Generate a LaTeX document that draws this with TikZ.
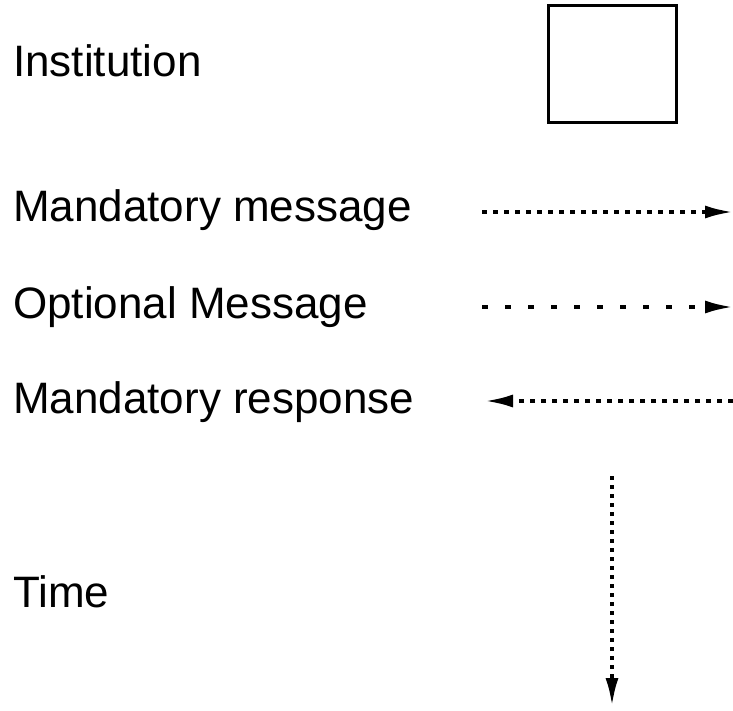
\documentclass[tikz,border=0pt]{standalone}
\usepackage{fontspec}
\setmainfont{Liberation Sans}
\usepackage{tikz}
\usetikzlibrary{arrows.meta}

\begin{document}
\begin{tikzpicture}[x=1pt, y=-1pt]
        \tikzstyle{every node} = [font=\fontsize{44}{50}\selectfont]
        \tikzstyle{eticheta} = [inner sep=0pt, anchor=base west]
        \tikzstyle{cutie} = [draw, line width=2.5pt, inner sep=0pt, minimum width=128pt, minimum height=117pt]
        \tikzstyle{sageata} = [line width=3.5pt, -{Latex[length=28pt, width=13pt]}]
        \tikzstyle{obligat} = [sageata, dash pattern=on 5pt off 6pt]
        \tikzstyle{optional} = [sageata, dash pattern=on 6pt off 17pt]
        \tikzstyle{timp} = [sageata, dash pattern=on 4pt off 5pt]

        \useasboundingbox (0,0) rectangle (733,711);

        \def\xs{13}
        \def\xa{482}
        \def\xb{733}

        \node[eticheta] (inst) at (\xs,77) {Institution};
        \node[eticheta] (mmes) at (\xs,222) {Mandatory message};
        \node[eticheta] (omes) at (\xs,318) {Optional Message};
        \node[eticheta] (mres) at (\xs,413) {Mandatory response};
        \node[eticheta] (time) at (\xs,607) {Time};

        \node[cutie] (box) at (612.5,64) {};

        \coordinate (mmA) at (\xa,212);
        \coordinate (mmB) at (\xb,212);
        \coordinate (omA) at (\xa,307);
        \coordinate (omB) at (\xb,307);
        \coordinate (mrA) at (\xb,401);
        \coordinate (mrB) at (485,401);
        \coordinate (tA) at (612,476);
        \coordinate (tB) at (612,706);

        \draw[obligat] (mmA) -- (mmB);
        \draw[optional] (omA) -- (omB);
        \draw[obligat] (mrA) -- (mrB);
        \draw[timp] (tA) -- (tB);
    \end{tikzpicture}
\end{document}
